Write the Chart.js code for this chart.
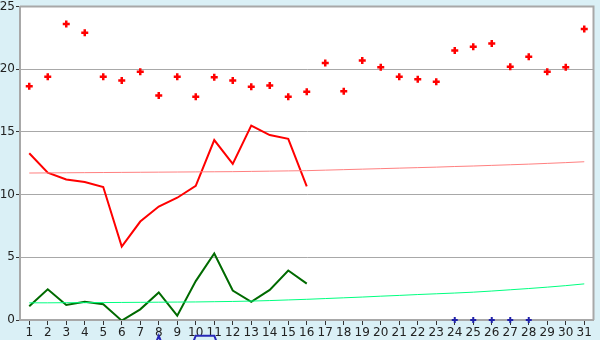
<!DOCTYPE html>
<html lang="en">
<head>
  <meta charset="UTF-8" />
  <title>Daily values</title>
  <script src="https://cdn.jsdelivr.net/npm/chart.js"></script>
  <style>
    html, body {
      margin: 0;
      padding: 0;
      background-color: #daf0f6;
    }
    #chart-container {
      position: relative;
      width: 600px;
      height: 340px;
    }
  </style>
</head>
<body>
  <div id="chart-container">
    <canvas id="dayChart"></canvas>
  </div>

  <script>
    const days = [...Array(31).keys()].map(d => String(d + 1));
    const yTicks = [0, 5, 10, 15, 20, 25];

    // red markers
    const highPoints = [18.65, 19.4, 23.6, 22.9, 19.4, 19.1, 19.8, 17.9, 19.4, 17.8,
      19.35, 19.1, 18.6, 18.7, 17.8, 18.2, 20.5, 18.25, 20.7, 20.15,
      19.4, 19.2, 19.0, 21.5, 21.8, 22.05, 20.2, 21.0, 19.8, 20.15, 23.2];
    // red line (first 16 days)
    const midLine = [13.3, 11.75, 11.2, 11.0, 10.6, 5.85, 7.85, 9.05, 9.75, 10.7,
      14.35, 12.45, 15.5, 14.75, 14.45, 10.65];
    // pink trend
    const midTrend = [11.72, 11.73, 11.74, 11.75, 11.76, 11.77, 11.78, 11.79, 11.8, 11.81,
      11.82, 11.83, 11.85, 11.87, 11.89, 11.91, 11.95, 11.99, 12.03, 12.07,
      12.11, 12.15, 12.19, 12.24, 12.28, 12.33, 12.38, 12.43, 12.49, 12.55, 12.62];
    // dark green line
    const lowLine = [1.1, 2.45, 1.2, 1.45, 1.25, -0.05, 0.85, 2.2, 0.35, 3.1,
      5.3, 2.35, 1.45, 2.4, 3.95, 2.9];
    // light green trend
    const lowTrend = [1.37, 1.37, 1.38, 1.38, 1.39, 1.4, 1.41, 1.42, 1.43, 1.44,
      1.46, 1.48, 1.51, 1.55, 1.6, 1.65, 1.71, 1.77, 1.83, 1.9,
      1.96, 2.03, 2.09, 2.15, 2.22, 2.31, 2.41, 2.51, 2.62, 2.74, 2.88];
    // blue line, mostly below the axis
    const blueLine = [null, null, null, null, null, null, -5, -1.25, -5, -1.25,
      -1.25, -5];
    // blue markers on the axis
    const bluePoints = [null, null, null, null, null, null, null, null, null, null,
      null, null, null, null, null, null, null, null, null, null,
      null, null, null, 0, 0, 0, 0, 0, null, null, null];

    Chart.register({
      id: 'plotBackground',
      beforeDraw: (chart) => {
        const ctx = chart.ctx;
        const a = chart.chartArea;
        ctx.save();
        ctx.fillStyle = '#daf0f6';
        ctx.fillRect(0, 0, chart.width, chart.height);
        ctx.fillStyle = '#ffffff';
        ctx.fillRect(a.left, a.top, a.right - a.left, a.bottom - a.top);
        ctx.restore();
      },
      afterDatasetsDraw: (chart) => {
        const ctx = chart.ctx;
        const a = chart.chartArea;
        ctx.save();
        ctx.strokeStyle = '#a8a8a8';
        ctx.lineWidth = 2;
        ctx.beginPath();
        ctx.moveTo(a.left, a.top);
        ctx.lineTo(a.right, a.top);
        ctx.lineTo(a.right, a.bottom);
        ctx.stroke();
        ctx.restore();
      }
    });

    const tickFont = { family: 'DejaVu Sans', size: 12 };

    const noPad = (scale) => {
      scale.paddingTop = 0;
      scale.paddingBottom = 0;
      scale.paddingLeft = 0;
      scale.paddingRight = 0;
    };

    new Chart(document.getElementById('dayChart'), {
      type: 'line',
      data: {
        labels: days,
        datasets: [
          { data: midTrend, borderColor: '#ff8080', borderWidth: 1, pointRadius: 0 },
          { data: lowTrend, borderColor: '#00ff80', borderWidth: 1, pointRadius: 0 },
          { data: midLine, borderColor: '#ff0000', borderWidth: 2, pointRadius: 0 },
          { data: lowLine, borderColor: '#006a00', borderWidth: 2, pointRadius: 0 },
          { data: blueLine, borderColor: '#2828b8', borderWidth: 2, pointRadius: 0, clip: false },
          {
            data: highPoints, showLine: false, pointStyle: 'cross', pointRadius: 3.5,
            pointBorderWidth: 2.5, borderColor: '#ff0000', backgroundColor: '#ff0000'
          },
          {
            data: bluePoints, showLine: false, pointStyle: 'cross', pointRadius: 3,
            pointBorderWidth: 2, borderColor: '#2020a8', backgroundColor: '#2020a8', clip: false
          }
        ]
      },
      options: {
        responsive: true,
        maintainAspectRatio: false,
        animation: false,
        layout: { padding: { top: 4, right: 3, left: 0, bottom: 0 } },
        plugins: {
          legend: { display: false },
          tooltip: { enabled: false }
        },
        scales: {
          x: {
            offset: true,
            afterFit: (scale) => { scale.height = 20; noPad(scale); },
            grid: {
              drawOnChartArea: false,
              tickLength: 5,
              tickColor: '#333333',
              offset: false
            },
            border: { color: '#a8a8a8', width: 2 },
            ticks: { color: '#222222', font: tickFont, padding: 1, autoSkip: false, maxRotation: 0 }
          },
          y: {
            min: 0,
            max: 25,
            afterFit: (scale) => { scale.width = 20; noPad(scale); },
            afterBuildTicks: (scale) => { scale.ticks = yTicks.map(v => ({ value: v })); },
            grid: {
              color: '#a8a8a8',
              lineWidth: 1,
              tickLength: 4,
              tickColor: '#333333'
            },
            border: { color: '#a8a8a8', width: 2 },
            ticks: { color: '#222222', font: tickFont, padding: 1 }
          }
        }
      }
    });
  </script>
</body>
</html>
